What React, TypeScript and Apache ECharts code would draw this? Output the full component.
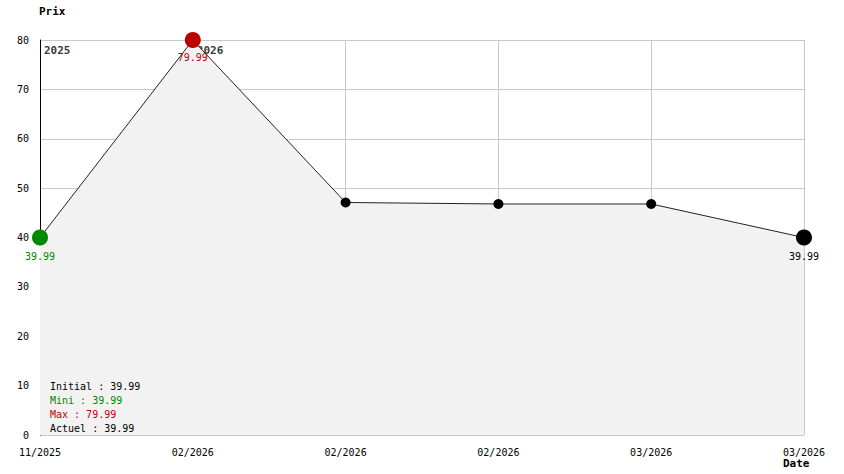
import React, { useEffect, useRef } from "react";
import * as echarts from "echarts";

const dateLabels = ["11/2025", "02/2026", "02/2026", "02/2026", "03/2026", "03/2026"];
const prices = [39.99, 79.99, 47.09, 46.79, 46.79, 39.99];
const yearMarks: [number, string][] = [[0, "2025"], [1, "2026"]];
const summaryLines = [
  { text: "Initial : 39.99", color: "#000000" },
  { text: "Mini : 39.99", color: "#008800" },
  { text: "Max : 79.99", color: "#bb0000" },
  { text: "Actuel : 39.99", color: "#000000" },
];

const FONT = "DejaVu Sans Mono";
const FS = 10;
const GREEN = "#008800";
const RED = "#bb0000";

export default function App() {
  const ref = useRef<HTMLDivElement>(null);
  useEffect(() => {
    if (!ref.current) return;
    const chart = echarts.init(ref.current, null, { renderer: "svg" });
    const minV = Math.min(...prices);
    const maxV = Math.max(...prices);
    const last = prices.length - 1;
    const minIdx = prices.indexOf(minV);
    const maxIdx = prices.indexOf(maxV);
    const data = prices.map((v, i) => {
      let color = "#000000";
      let size = 10;
      let label: any = { show: false };
      if (i === minIdx) {
        color = GREEN; size = 16;
        label = { show: true, position: "bottom", distance: 6, color: GREEN };
      } else if (i === maxIdx) {
        color = RED; size = 16;
        label = { show: true, position: "bottom", distance: 4, color: RED };
      } else if (i === last) {
        color = "#000000"; size = 16;
        label = { show: true, position: "bottom", distance: 6, color: "#000000" };
      }
      return {
        value: [i, v],
        symbolSize: size,
        itemStyle: { color },
        label: { ...label, fontFamily: FONT, fontSize: FS, formatter: v.toFixed(2) },
      };
    });
    chart.setOption({
      animation: false,
      textStyle: { fontFamily: FONT, fontSize: FS },
      grid: { left: 40, right: 40, top: 40, bottom: 39, containLabel: false },
      xAxis: {
        type: "value",
        min: 0,
        max: dateLabels.length - 1,
        interval: 1,
        axisLine: { show: false },
        axisTick: { show: false },
        axisLabel: {
          color: "#000",
          fontFamily: FONT,
          fontSize: FS,
          margin: 12,
          formatter: (v: number) => dateLabels[v] ?? "",
        },
        splitLine: { show: true, lineStyle: { color: "#c8c8c8", width: 1 } },
      },
      yAxis: {
        type: "value",
        min: 0,
        max: 80,
        interval: 10,
        axisLine: { show: true, lineStyle: { color: "#000", width: 1 } },
        axisTick: { show: false },
        axisLabel: { color: "#000", fontFamily: FONT, fontSize: FS, margin: 11 },
        splitLine: { show: true, lineStyle: { color: "#c8c8c8", width: 1 } },
      },
      series: [
        {
          type: "line",
          data,
          symbol: "circle",
          lineStyle: { color: "#222222", width: 1 },
          areaStyle: { color: "#f2f2f2", opacity: 1 },
          z: 2,
        },
        {
          type: "scatter",
          data: yearMarks.map(([i, y]) => ({ value: [i, 80], name: y })),
          symbolSize: 0,
          silent: true,
          z: 1,
          label: {
            show: true,
            position: [4, 5],
            formatter: (p: any) => p.name,
            color: "#000",
            fontWeight: "bold",
            fontFamily: FONT,
            fontSize: 11,
            align: "left",
            verticalAlign: "top",
          },
        },
      ],
      graphic: [
        {
          type: "text",
          left: 39,
          top: 6,
          z: 100,
          style: { text: "Prix", fill: "#000", font: `bold 11px "${FONT}"` },
        },
        {
          type: "text",
          left: 783,
          top: 458,
          z: 100,
          style: { text: "Date", fill: "#000", font: `bold 11px "${FONT}"` },
        },
        ...summaryLines.map((s, k) => ({
          type: "text",
          left: 50,
          top: 381 + k * 14,
          z: 100,
          style: { text: s.text, fill: s.color, font: `${FS}px "${FONT}"` },
        })),
      ],
    });
    return () => chart.dispose();
  }, []);
  return (
    <div
      ref={ref}
      style={{ position: "fixed", left: 0, top: 0, width: 844, height: 474, background: "#fff" }}
    />
  );
}
